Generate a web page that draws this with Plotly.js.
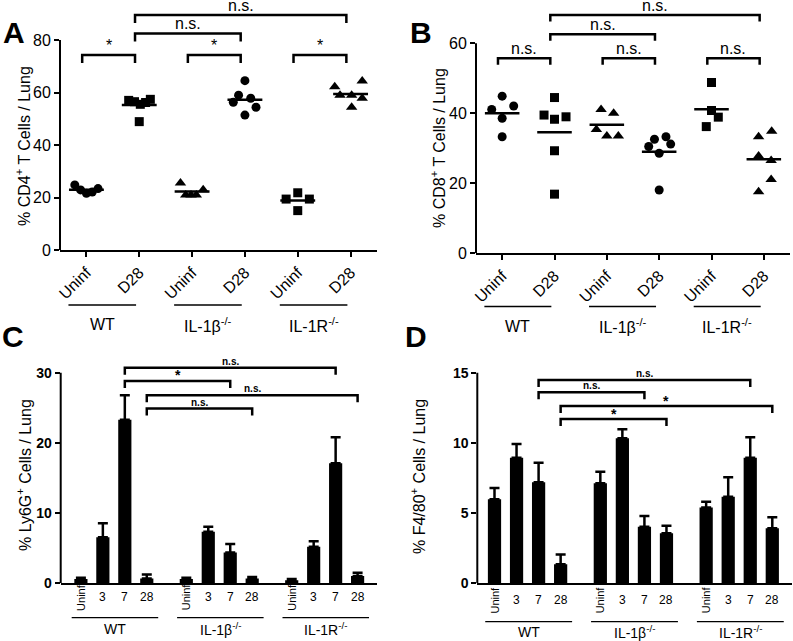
<!DOCTYPE html>
<html><head><meta charset="utf-8">
<script src="https://cdn.plot.ly/plotly-3.0.1.min.js"></script>
<style>html,body{margin:0;padding:0;background:#fff}#chart{width:793px;height:641px}</style>
</head><body><div id="chart"></div>
<script>
// ---------------- data ----------------
const groupNames = ["WT", "IL-1β<sup>-/-</sup>", "IL-1R<sup>-/-</sup>"];
const dotTickLabels = ["Uninf", "D28", "Uninf", "D28", "Uninf", "D28"];
const dotSymbols = ["circle", "square", "triangle-up", "circle", "square", "triangle-up"];
const barTickLabels = ["Uninf", "3", "7", "28"];

// Panel A: % CD4+ T cells / lung (one list per group/time)
const cd4Values = [
  [24.8, 22.9, 21.6, 22.1, 23.4],
  [57.0, 56.5, 55.5, 56.2, 57.4, 48.9],
  [25.5, 21.0, 21.0, 21.0, 23.0],
  [64.5, 59.0, 57.8, 56.3, 54.4, 51.4],
  [19.4, 21.8, 19.4, 15.0],
  [62.2, 59.0, 59.0, 64.4, 57.8, 54.4]
];
const cd4Spread = [
  [-0.22, -0.11, 0, 0.11, 0.22],
  [-0.2, -0.09, 0.02, 0.12, 0.21, 0],
  [-0.22, -0.12, -0.02, 0.08, 0.21],
  [0, -0.12, 0.11, -0.22, 0.21, 0],
  [-0.22, 0, 0.22, 0],
  [-0.3, -0.2, 0.02, 0.22, 0.22, 0.02]
];
// Panel B: % CD8+ T cells / lung
const cd8Values = [
  [41.1, 44.9, 42.1, 38.6, 33.3],
  [44.5, 39.5, 38.3, 39.0, 29.3, 16.9],
  [41.1, 40.0, 35.4, 33.5, 33.5],
  [32.6, 33.3, 30.5, 31.2, 28.6, 18.1],
  [48.8, 40.8, 38.9, 36.2],
  [33.3, 34.9, 27.8, 26.5, 21.1, 17.6]
];
const cd8Spread = [
  [-0.2, 0, 0.22, 0, 0],
  [0, -0.2, 0, 0.22, 0, 0],
  [-0.11, 0.13, -0.2, 0, 0.22],
  [-0.09, 0.13, -0.2, 0.22, 0, 0],
  [0, 0, 0.13, -0.1],
  [-0.1, 0.15, -0.1, 0.14, 0.14, -0.1]
];
// Panel C: % Ly6G+ cells / lung (mean, SEM)
const ly6gMean = [0.6, 6.55, 23.3, 0.7, 0.6, 7.35, 4.4, 0.7, 0.45, 5.2, 17.1, 1.04];
const ly6gErr  = [0.2, 2.0, 3.5, 0.55, 0.2, 0.7, 1.2, 0.2, 0.15, 0.8, 3.7, 0.45];
// Panel D: % F4/80+ cells / lung (mean, SEM)
const f480Mean = [5.98, 8.95, 7.19, 1.35, 7.12, 10.33, 4.03, 3.56, 5.39, 6.17, 8.95, 3.92];
const f480Err  = [0.8, 0.97, 1.4, 0.7, 0.83, 0.64, 0.76, 0.54, 0.42, 1.38, 1.45, 0.78];

// significance brackets: [from index, to index, bracket height, label]
const cd4Brackets = [[0, 1, 74.3, "*"], [2, 3, 74.3, "*"], [4, 5, 74.3, "*"], [1, 3, 82.5, "n.s."], [1, 5, 89.5, "n.s."]];
const cd8Brackets = [[0, 1, 55.7, "n.s."], [2, 3, 55.7, "n.s."], [4, 5, 55.7, "n.s."], [1, 3, 62.6, "n.s."], [1, 5, 68.1, "n.s."]];
const ly6gBrackets = [[2, 10, 30.7, "n.s."], [2, 6, 28.8, "*"], [3, 11, 26.8, "n.s."], [3, 7, 24.9, "n.s."]];
const f480Brackets = [[2, 10, 14.48, "n.s."], [2, 6, 13.6, "n.s."], [3, 11, 12.63, "*"], [3, 7, 11.7, "*"]];

// ---------------- layout geometry (pixels) ----------------
const W = 793, H = 641;
const FONT = "Liberation Sans, Arial, Helvetica, sans-serif";
const P = py => 1 - py / H;
const Q = px => px / W;

const geo = {
  A: {x: "x",  y: "y",  left: 60,    right: 377,   zero: 250,   ppu: 2.625, ymax: 93,   axTop: 80, leg: 8,   xr: [-0.5, 5.5]},
  B: {x: "x2", y: "y2", left: 476,   right: 790,   zero: 253.3, ppu: 3.5,   ymax: 72,   axTop: 60, leg: 6.5, xr: [-0.5, 5.5]},
  C: {x: "x3", y: "y3", left: 60.7,  right: 376.7, zero: 583.3, ppu: 7.02,  ymax: 32,   axTop: 30, leg: 7,   xr: [-0.92, 13.47]},
  D: {x: "x4", y: "y4", left: 477.3, right: 791.7, zero: 583.3, ppu: 14.04, ymax: 15.5, axTop: 15, leg: 7,   xr: [-0.78, 13.48]}
};

const barX = ly6gMean.map((_, i) => Math.floor(i / 4) * 4.8 + (i % 4));

const traces = [];
const shapes = [];
const annotations = [];
const layout = {
  width: W, height: H, margin: {l: 0, r: 0, t: 0, b: 0},
  paper_bgcolor: "#fff", plot_bgcolor: "rgba(0,0,0,0)", showlegend: false,
  font: {family: FONT, color: "#000"}
};

function axName(ref) { return ref === "x" ? "xaxis" : ref === "y" ? "yaxis" : (ref[0] + "axis" + ref.slice(1)); }

function setupAxes(g, yticks, bold, dotPanel) {
  layout[axName(g.x)] = {
    domain: [Q(g.left), Q(g.right)], range: g.xr, anchor: g.y, type: "linear",
    showgrid: false, zeroline: false, showline: true, linecolor: "#000", linewidth: 2,
    ticks: dotPanel ? "outside" : "", ticklen: 5, tickwidth: 2, tickcolor: "#000",
    tickmode: "array", tickvals: dotPanel ? [0, 1, 2, 3, 4, 5] : [],
    ticktext: dotPanel ? dotTickLabels : [], tickangle: -45,
    showticklabels: dotPanel, tickfont: {size: 16, family: FONT}, fixedrange: true
  };
  layout[axName(g.y)] = {
    domain: [P(g.zero), P(g.zero - g.ymax * g.ppu)], range: [0, g.ymax], anchor: g.x,
    showgrid: false, zeroline: false, showline: false,
    ticks: "outside", ticklen: 5, tickwidth: 2, tickcolor: "#000",
    tickmode: "array", tickvals: yticks,
    tickfont: bold ? {size: 14, family: FONT, weight: "bold"} : {size: 16, family: FONT},
    fixedrange: true
  };
  shapes.push({type: "line", xref: g.x + " domain", yref: g.y, x0: 0, x1: 0, y0: 0, y1: g.axTop,
               line: {color: "#000", width: 2}});
}

function addBrackets(g, list, posOf, fontFor, shiftFor) {
  const legU = g.leg / g.ppu;
  list.forEach(b => {
    const x0 = posOf(b[0]), x1 = posOf(b[1]), yt = b[2], yl = yt - legU;
    shapes.push({type: "path", xref: g.x, yref: g.y,
      path: `M${x0},${yl} L${x0},${yt} L${x1},${yt} L${x1},${yl}`,
      line: {color: "#000", width: 2.5}});
    annotations.push({x: (x0 + x1) / 2, y: yt, xref: g.x, yref: g.y, text: b[3],
      showarrow: false, yanchor: "bottom", borderpad: 0, yshift: shiftFor(b[3]), font: fontFor(b[3])});
  });
}

function dotPanel(g, values, spread, yticks) {
  setupAxes(g, yticks, false, true);
  values.forEach((vals, c) => {
    traces.push({type: "scatter", mode: "markers", xaxis: g.x, yaxis: g.y, cliponaxis: false,
      x: vals.map((_, k) => c + spread[c][k]), y: vals,
      marker: {symbol: dotSymbols[c], color: "#000", size: dotSymbols[c] === "triangle-up" ? 10 : 9}});
    const m = vals.reduce((a, b) => a + b, 0) / vals.length;
    traces.push({type: "scatter", mode: "lines", xaxis: g.x, yaxis: g.y,
      x: [c - 0.33, c + 0.33], y: [m, m], line: {color: "#000", width: 2.5}});
  });
}

function barPanel(g, means, errs, yticks, tickLabelY, groupLineY, groupLabelY) {
  setupAxes(g, yticks, true, false);
  traces.push({type: "bar", xaxis: g.x, yaxis: g.y, x: barX, y: means, width: 0.6,
    marker: {color: "#000", line: {width: 0}},
    error_y: {type: "data", symmetric: false, array: errs, arrayminus: errs.map(() => 0),
              color: "#000", thickness: 2.5, width: 5}});
  barX.forEach((x, i) => {
    const lab = barTickLabels[i % 4];
    annotations.push({x: x, y: P(tickLabelY), xref: g.x, yref: "paper", text: lab, showarrow: false,
      textangle: lab === "Uninf" ? -90 : 0, font: {size: lab === "Uninf" ? 11 : 12, family: FONT},
      yanchor: "middle", xanchor: "center"});
  });
  groupNames.forEach((name, gi) => {
    const c = gi * 4.8 + 1.55;
    shapes.push({type: "line", xref: g.x, yref: "paper", x0: c - 1.97, x1: c + 1.97,
      y0: P(groupLineY), y1: P(groupLineY), line: {color: "#000", width: 1.2}});
    annotations.push({x: c, y: P(groupLabelY), xref: g.x, yref: "paper", text: name, showarrow: false,
      font: {size: 14, family: FONT}, yanchor: "middle"});
  });
}

function dotGroups(g, lineY, labelY) {
  groupNames.forEach((name, gi) => {
    const c = gi * 2 + 0.5 - 0.2;
    shapes.push({type: "line", xref: g.x, yref: "paper", x0: c - 0.64, x1: c + 0.64,
      y0: P(lineY), y1: P(lineY), line: {color: "#000", width: 1.5}});
    annotations.push({x: c, y: P(labelY), xref: g.x, yref: "paper", text: name, showarrow: false,
      font: {size: 16, family: FONT}, yanchor: "middle"});
  });
}

const plainFont = lab => ({size: 16, family: FONT});
const boldFont = lab => (lab === "*" ? {size: 14, family: FONT, weight: "bold"} : {size: 10, family: FONT, weight: "bold"});
const noShift = lab => 0;
const cShift = lab => (lab === "*" ? -3 : 0);
const dShift = lab => (lab === "*" ? -4 : 0);

// ----- Panel A -----
dotPanel(geo.A, cd4Values, cd4Spread, [0, 20, 40, 60, 80]);
addBrackets(geo.A, cd4Brackets, i => i - 0.08, plainFont, noShift);
dotGroups(geo.A, 305, 325);
// ----- Panel B -----
dotPanel(geo.B, cd8Values, cd8Spread, [0, 20, 40, 60]);
addBrackets(geo.B, cd8Brackets, i => i - 0.08, plainFont, noShift);
dotGroups(geo.B, 306.5, 326);
// ----- Panel C -----
barPanel(geo.C, ly6gMean, ly6gErr, [0, 10, 20, 30], 597, 617.7, 629);
addBrackets(geo.C, ly6gBrackets, i => barX[i], boldFont, cShift);
// ----- Panel D -----
barPanel(geo.D, f480Mean, f480Err, [0, 5, 10, 15], 600, 621.7, 632);
addBrackets(geo.D, f480Brackets, i => barX[i], boldFont, dShift);

// axis titles
const titles = [
  ["% CD4<sup>+</sup> T Cells / Lung", 23, 146],
  ["% CD8<sup>+</sup> T Cells / Lung", 438, 148],
  ["% Ly6G<sup>+</sup> Cells / Lung", 24, 475],
  ["% F4/80<sup>+</sup> Cells / Lung", 418, 477]
];
titles.forEach(t => annotations.push({x: Q(t[1]), y: P(t[2]), xref: "paper", yref: "paper", text: t[0],
  textangle: -90, showarrow: false, font: {size: 16, family: FONT}, xanchor: "center", yanchor: "middle"}));

// panel letters
[["A", 14, 33], ["B", 421, 32], ["C", 13, 336], ["D", 416, 336]].forEach(l =>
  annotations.push({x: Q(l[1]), y: P(l[2]), xref: "paper", yref: "paper", text: "<b>" + l[0] + "</b>",
    showarrow: false, font: {size: 30, family: FONT}, xanchor: "center", yanchor: "middle"}));

layout.shapes = shapes;
layout.annotations = annotations;
Plotly.newPlot("chart", traces, layout, {staticPlot: true, displayModeBar: false});
</script></body></html>
